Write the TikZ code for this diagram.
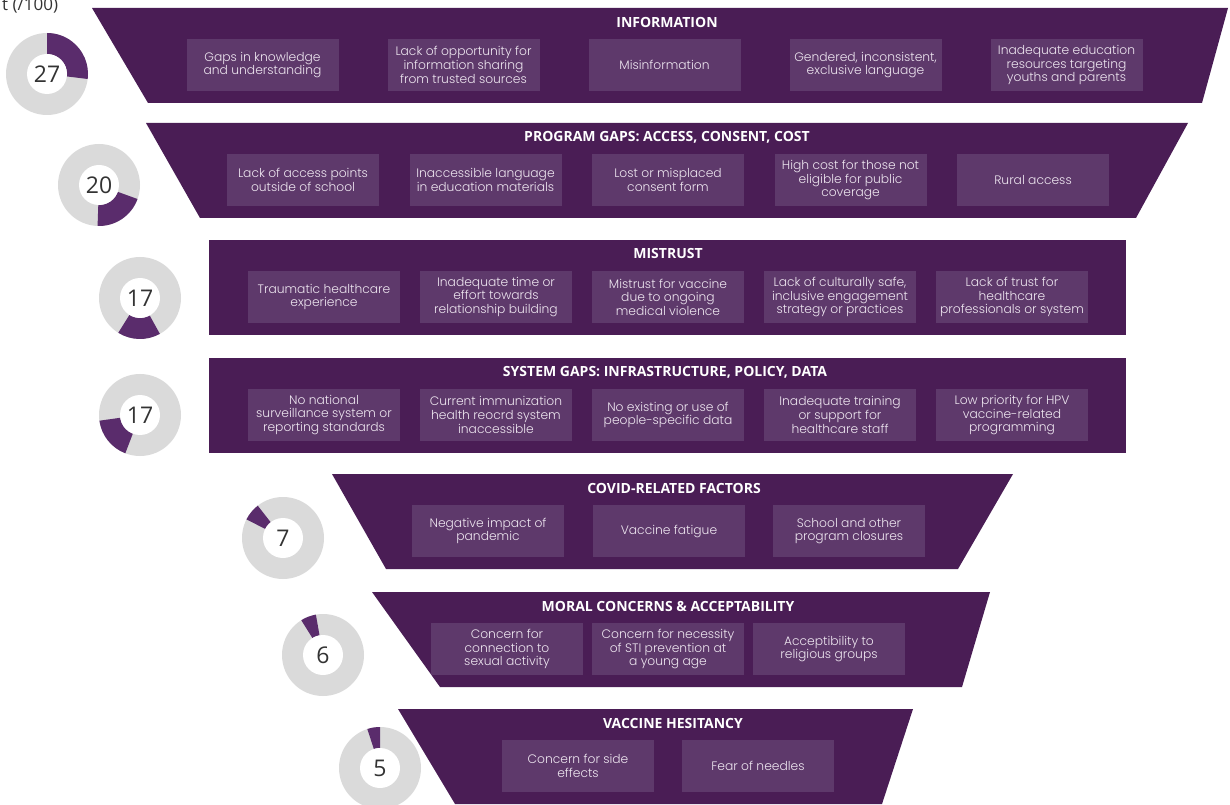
\documentclass[tikz,border=0pt]{standalone}
\usepackage{fontspec}
\setmainfont{Poppins}[UprightFont=* Light]
\newfontfamily\headfont{Open Sans}
\newfontfamily\numfont{Open Sans}
\usetikzlibrary{positioning}
\definecolor{tierpurple}{HTML}{4A1D55}
\definecolor{boxpurple}{HTML}{5E396B}
\definecolor{itemtext}{HTML}{EEE6F0}
\definecolor{ringpurple}{HTML}{5A2C6C}
\definecolor{ringgray}{HTML}{DADADA}
\definecolor{numgray}{HTML}{333333}

% percentage ring: centre x, centre y, start angle, end angle, value, name
\newcommand{\pctring}[6]{%
  \fill[ringgray] (#1,#2) circle (41);
  \fill[ringpurple] (#1,#2) ++(#3:41) arc (#3:#4:41) -- ([shift={(#4:20)}]#1,#2) arc (#4:#3:20) -- cycle;
  \fill[white] (#1,#2) circle (20);
  \node[num] (#6) at (#1,#2) {#5};}

\begin{document}
\begin{tikzpicture}[x=1pt, y=1pt,
  tier/.style={fill=tierpurple},
  item/.style={rectangle, fill=boxpurple, minimum width=152pt, minimum height=52pt, inner sep=1pt, align=center, text=itemtext, font=\fontsize{12.3}{13.6}\selectfont},
  head/.style={text=white, font=\headfont\bfseries\fontsize{14}{15}\selectfont},
  num/.style={text=numgray, font=\numfont\fontsize{23}{25}\selectfont}
]
  \useasboundingbox (0,0) rectangle (1230,804);
  \node[anchor=base west, inner sep=0pt, text=numgray, font=\numfont\fontsize{17}{18}\selectfont] (scale) at (2,793) {t (/100)};

  % funnel tiers
  \fill[tier] (92,796) -- (1228,796) -- (1202,701) -- (148,701) -- cycle;
  \fill[tier] (146,681) -- (1188,681) -- (1136,586) -- (200,586) -- cycle;
  \fill[tier] (209,564) rectangle (1126,469);
  \fill[tier] (209,446) rectangle (1126,351);
  \fill[tier] (332,330) -- (1013,330) -- (958,235) -- (386,235) -- cycle;
  \fill[tier] (372,212) -- (990,212) -- (962,117) -- (440,117) -- cycle;
  \fill[tier] (398,95) -- (913,95) -- (882,0) -- (455,0) -- cycle;

  % information
  \node[head] (infohead) at (667,782) {INFORMATION};
  \node[item] (info1) at (262.5,739) {Gaps in knowledge\\and understanding};
  \node[item] (info2) at (463.5,739) {Lack of opportunity for\\information sharing\\from trusted sources};
  \node[item] (info3) at (664.5,739) {Misinformation};
  \node[item] (info4) at (865.5,739) {Gendered, inconsistent,\\exclusive language};
  \node[item] (info5) at (1066.5,739) {Inadequate education\\resources targeting\\youths and parents};

  % program gaps
  \node[head] (proghead) at (667,667) {PROGRAM GAPS: ACCESS, CONSENT, COST};
  \node[item] (prog1) at (303,624) {Lack of access points\\outside of school};
  \node[item] (prog2) at (485.5,624) {Inaccessible language\\in education materials};
  \node[item] (prog3) at (668,624) {Lost or misplaced\\consent form};
  \node[item] (prog4) at (850.5,624) {High cost for those not\\eligible for public\\coverage};
  \node[item] (prog5) at (1033,624) {Rural access};

  % mistrust
  \node[head] (trusthead) at (668,550) {MISTRUST};
  \node[item] (trust1) at (324,507) {Traumatic healthcare\\experience};
  \node[item] (trust2) at (496,507) {Inadequate time or\\effort towards\\relationship building};
  \node[item] (trust3) at (668,507) {Mistrust for vaccine\\due to ongoing\\medical violence};
  \node[item] (trust4) at (840,507) {Lack of culturally safe,\\inclusive engagement\\strategy or practices};
  \node[item] (trust5) at (1012,507) {Lack of trust for\\healthcare\\professionals or system};

  % system gaps
  \node[head] (syshead) at (665,432) {SYSTEM GAPS: INFRASTRUCTURE, POLICY, DATA};
  \node[item] (sys1) at (324,389) {No national\\surveillance system or\\reporting standards};
  \node[item] (sys2) at (496,389) {Current immunization\\health reocrd system\\inaccessible};
  \node[item] (sys3) at (668,389) {No existing or use of\\people-specific data};
  \node[item] (sys4) at (840,389) {Inadequate training\\or support for\\healthcare staff};
  \node[item] (sys5) at (1012,389) {Low priority for HPV\\vaccine-related\\programming};

  % covid-related
  \node[head] (covidhead) at (674,316) {COVID-RELATED FACTORS};
  \node[item] (covid1) at (488,273) {Negative impact of\\pandemic};
  \node[item] (covid2) at (669,273) {Vaccine fatigue};
  \node[item] (covid3) at (849,273) {School and other\\program closures};

  % moral concerns
  \node[head] (moralhead) at (668,198) {MORAL CONCERNS \& ACCEPTABILITY};
  \node[item] (moral1) at (507,155) {Concern for\\connection to\\sexual activity};
  \node[item] (moral2) at (668,155) {Concern for necessity\\of STI prevention at\\a young age};
  \node[item] (moral3) at (829,155) {Acceptibility to\\religious groups};

  % vaccine hesitancy
  \node[head] (heshead) at (673,81) {VACCINE HESITANCY};
  \node[item] (hes1) at (578,38) {Concern for side\\effects};
  \node[item] (hes2) at (758,38) {Fear of needles};

  % rings
  \pctring{47}{730}{-7}{90}{27}{ring1}
  \pctring{99}{619}{-92}{-20}{20}{ring2}
  \pctring{140}{506}{238}{299}{17}{ring3}
  \pctring{140}{389}{188}{249}{17}{ring4}
  \pctring{283}{266}{128}{153}{7}{ring5}
  \pctring{323}{149}{100}{122}{6}{ring6}
  \pctring{380}{36}{90}{108}{5}{ring7}
\end{tikzpicture}
\end{document}
